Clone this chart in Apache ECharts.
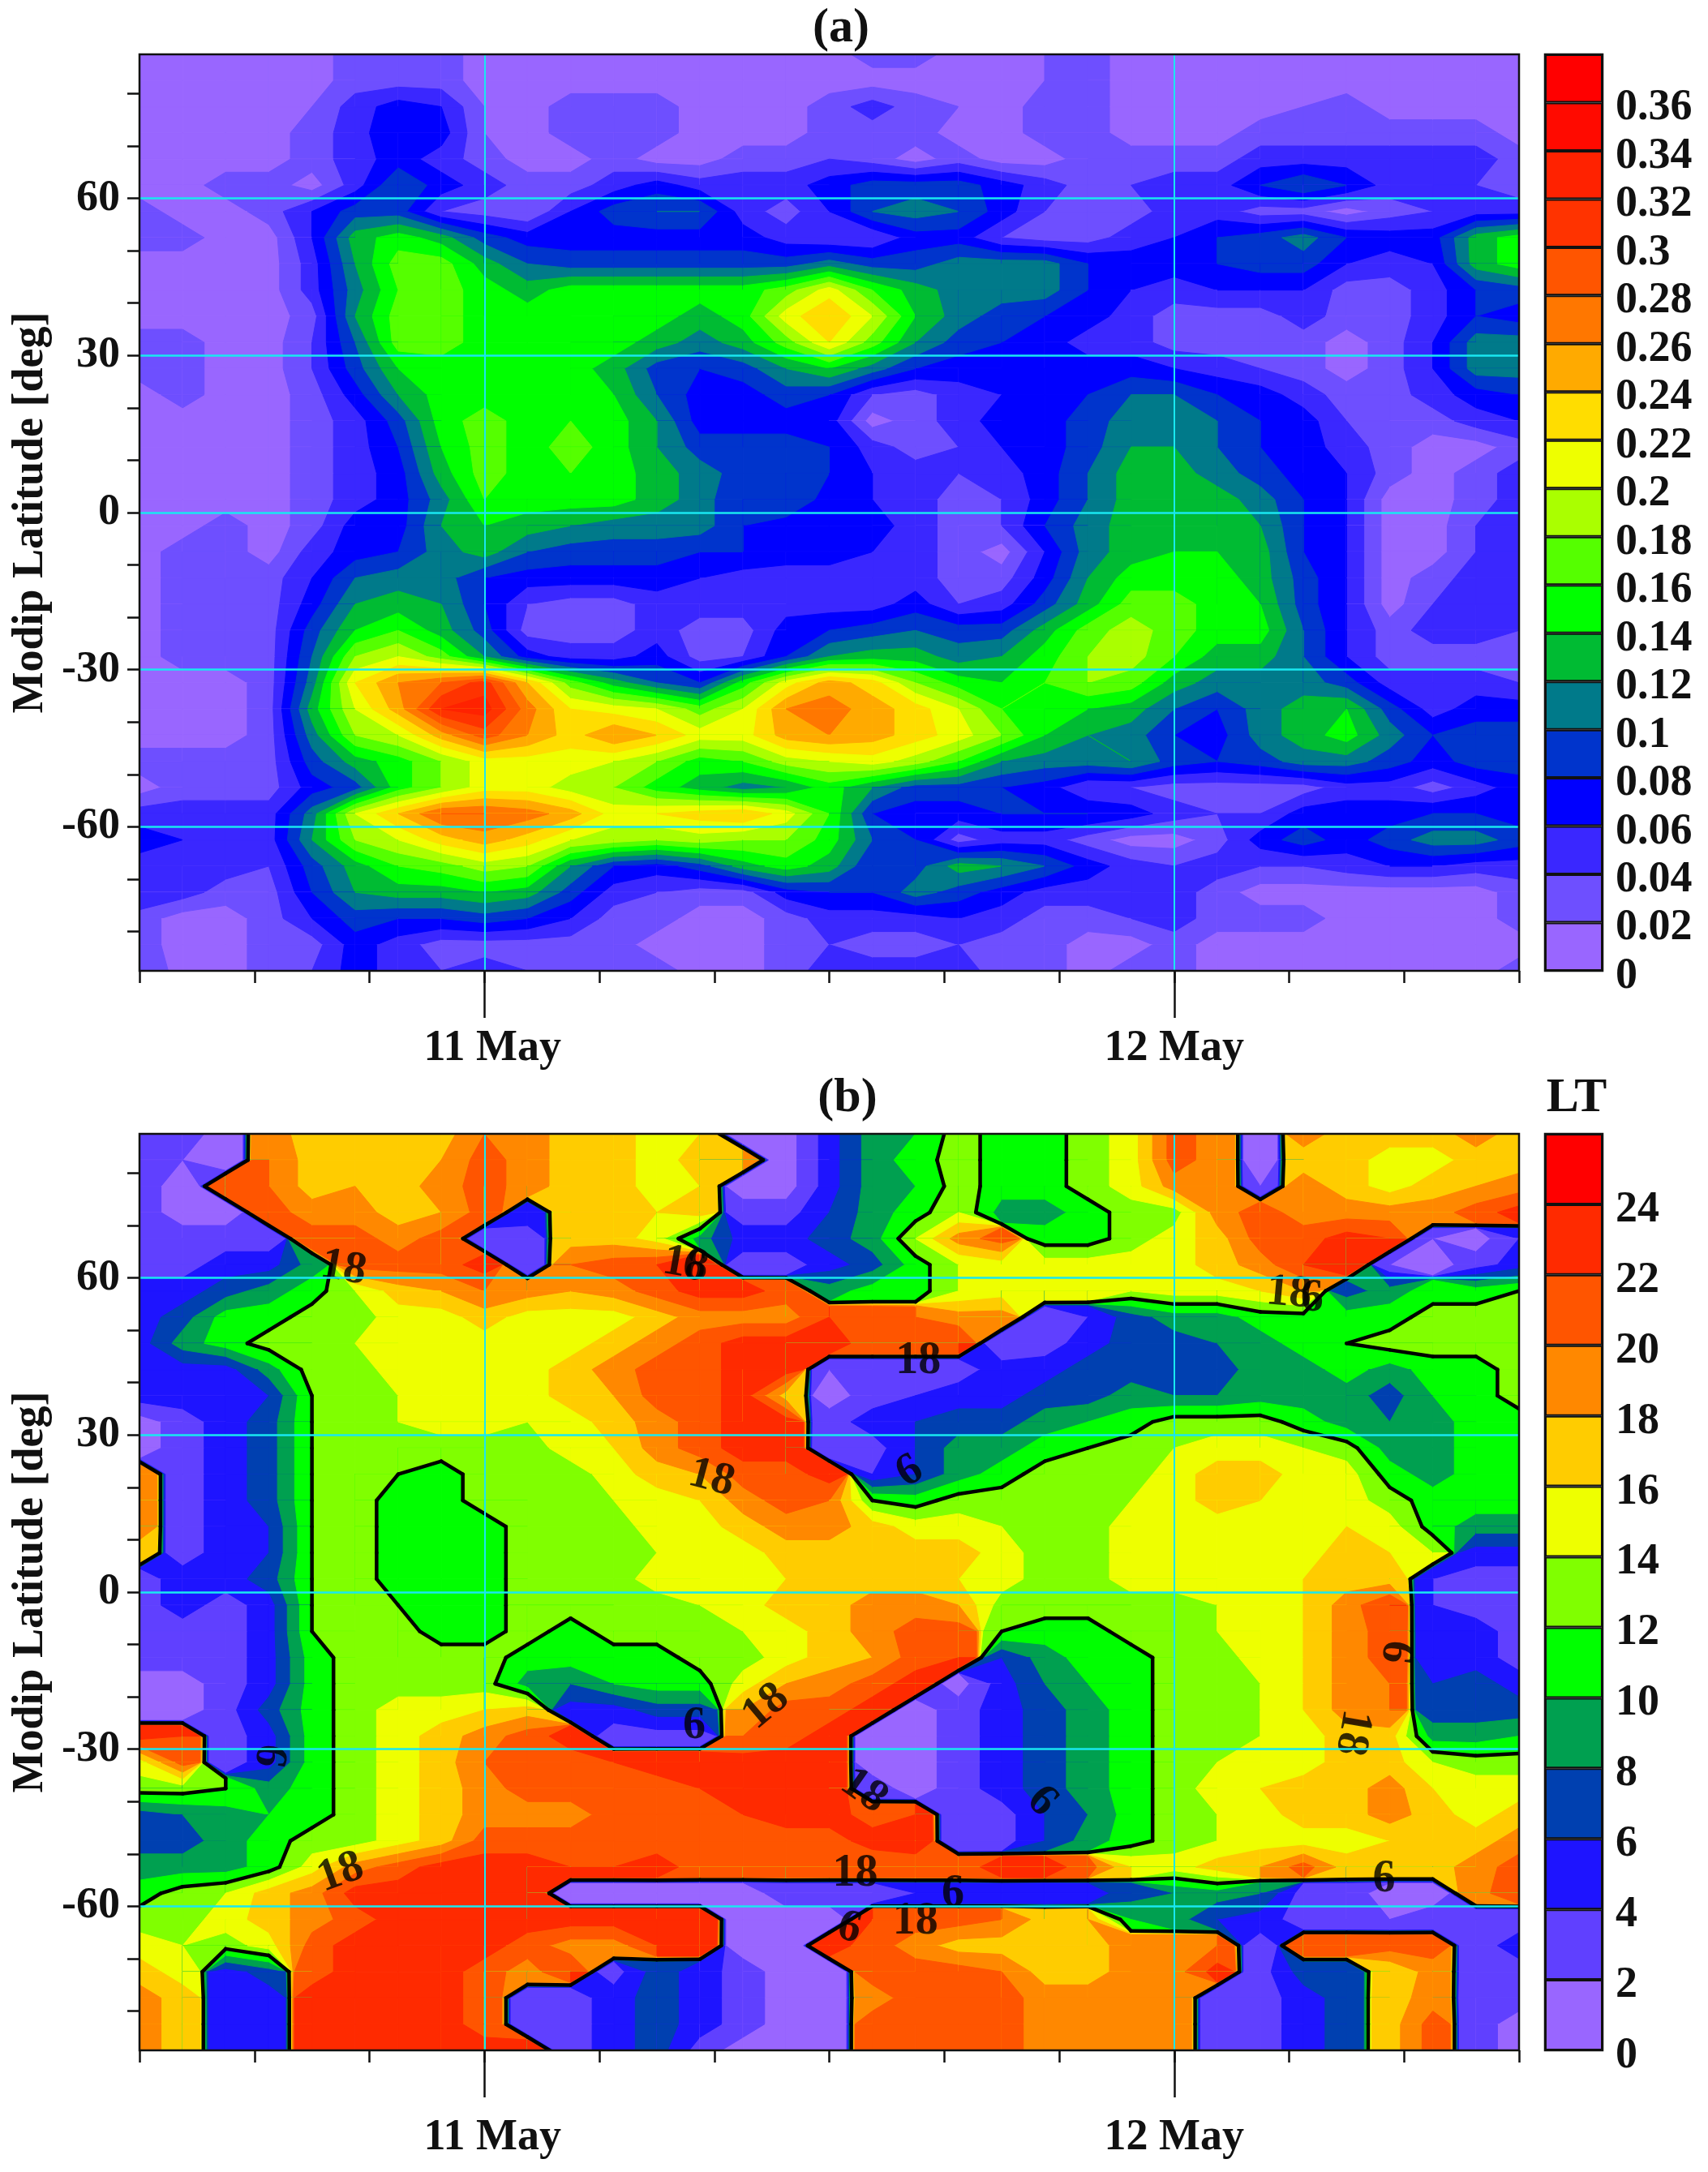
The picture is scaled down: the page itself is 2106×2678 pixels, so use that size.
<!DOCTYPE html>
<html>
<head>
<meta charset="utf-8">
<title>Modip latitude maps</title>
<style>
html,body{margin:0;padding:0;background:#fff;}
#main{width:2106px;height:2678px;}
</style>
<script src="https://cdn.jsdelivr.net/npm/echarts@6/dist/echarts.min.js"></script>
</head>
<body>
<div id="main"></div>
<script>
// hours since 10 May 12:00
const hours=[0,1.5,3,4.5,6,7.5,9,10.5,12,13.5,15,16.5,18,19.5,21,22.5,24,25.5,27,28.5,30,31.5,33,34.5,36,37.5,39,40.5,42,43.5,45,46.5,48];
const lats=[87.5,82.5,77.5,72.5,67.5,62.5,57.5,52.5,47.5,42.5,37.5,32.5,27.5,22.5,17.5,12.5,7.5,2.5,-2.5,-7.5,-12.5,-17.5,-22.5,-27.5,-32.5,-37.5,-42.5,-47.5,-52.5,-57.5,-62.5,-67.5,-72.5,-77.5,-82.5,-87.5];

// panel (a), in hundredths, one row per latitude
const rowsA=[
[1,1,1,1,1,3,4,3,1,1,1,1,1,1,1,1,1,3,3,1,1,2,3,1,1,1,1,1,1,1,1,1,1],
[1,1,1,1,1,3,3,3,1,1,1,1,1,1,1,1,1,1,1,1,1,2,3,1,1,1,1,1,1,1,1,1,1],
[1,1,1,1,2,5,7,6,2,1,3,3,3,1,1,1,3,5,3,2,1,3,3,1,1,1,1,2,3,1,1,1,1],
[1,1,1,1,3,5,8,7,2,1,3,3,3,1,1,1,3,3,3,1,1,3,3,1,1,1,3,3,3,3,3,3,1],
[1,1,1,1,3,5,7,5,3,1,1,3,1,1,3,3,4,3,1,3,1,1,3,3,3,3,5,5,5,5,5,5,3],
[1,1,3,3,1,5,10,7,5,3,3,5,7,5,5,5,7,9,9,9,7,5,3,4,5,5,8,10,8,5,5,4,3],
[3,1,1,3,6,9,9,4,3,2,6,9,10,10,5,3,6,10,11,10,7,4,3,3,5,5,3,3,1,3,4,5,5],
[3,3,1,1,6,13,15,13,9,7,7,7,7,7,7,5,4,4,7,7,4,3,3,5,6,8,9,11,8,7,7,13,15],
[1,1,1,1,5,12,17,17,13,10,9,9,9,9,9,9,11,9,9,11,11,11,8,7,7,8,9,9,6,5,6,13,15],
[1,1,1,1,5,11,16,17,15,13,15,15,15,15,15,17,21,16,13,11,11,11,8,6,5,6,6,6,3,3,5,8,9],
[1,1,1,1,3,12,17,17,15,15,15,16,15,13,15,21,24,20,14,11,9,8,7,5,3,3,3,5,3,3,5,8,7],
[3,3,1,1,4,10,17,17,15,15,15,15,13,11,13,17,22,17,12,9,8,7,5,5,3,3,3,3,1,3,6,11,11],
[3,3,1,1,4,9,14,15,15,15,15,13,9,8,9,12,14,11,8,7,7,7,7,7,6,5,4,3,1,3,6,11,11],
[1,3,1,1,3,7,12,15,15,15,15,14,10,7,7,9,8,4,3,5,6,7,8,10,10,8,7,5,3,3,5,7,8],
[1,1,1,1,3,5,9,15,17,15,16,15,12,7,7,7,7,1,3,5,7,7,9,11,11,10,8,7,4,3,3,5,6],
[1,1,1,1,3,5,8,14,17,15,17,15,12,9,9,9,8,5,3,4,6,7,9,12,12,10,8,7,5,3,1,1,3],
[1,1,1,1,3,5,7,13,17,15,16,15,13,11,9,9,8,6,5,4,5,7,10,13,13,11,9,7,6,3,1,3,5],
[1,1,1,1,3,5,7,11,16,15,15,15,13,11,8,10,7,6,5,3,4,7,10,13,14,13,11,8,6,1,1,3,5],
[1,1,3,1,3,7,7,12,14,13,12,11,11,11,8,7,7,7,5,3,4,8,11,13,13,13,12,8,6,1,1,4,5],
[1,3,3,1,5,7,8,11,13,10,9,9,9,8,8,7,7,6,5,3,1,6,11,13,14,14,13,8,6,1,1,4,5],
[1,3,3,3,6,10,11,11,8,7,7,7,7,6,5,5,5,5,5,3,3,7,12,15,15,15,13,9,6,1,3,5,5],
[1,3,3,3,7,12,13,12,8,4,3,3,5,5,5,5,5,5,7,4,5,9,13,17,17,15,14,9,6,1,4,5,5],
[1,3,3,3,9,14,16,13,9,3,3,3,5,3,3,7,8,9,10,9,9,13,17,19,17,15,15,10,6,3,5,5,4],
[1,3,3,3,10,18,20,17,12,7,5,5,7,3,4,8,12,13,13,11,12,15,18,19,16,13,13,10,6,3,3,3,3],
[1,1,1,3,11,22,26,28,31,24,17,13,10,8,15,21,25,23,18,15,14,16,18,17,13,11,11,11,9,5,5,5,4],
[1,1,1,3,13,20,25,32,33,27,22,21,20,17,20,26,27,25,23,20,16,15,14,13,10,8,11,13,14,9,5,7,7],
[1,1,1,3,11,18,20,25,29,26,23,26,24,21,21,25,26,25,23,21,18,14,12,11,8,7,11,13,15,11,8,9,9],
[3,3,3,3,9,13,15,18,21,21,21,20,18,15,16,19,20,21,19,16,12,11,11,12,9,8,9,11,11,9,7,9,9],
[1,3,3,3,7,9,15,18,21,21,19,18,15,13,11,12,15,12,9,9,8,7,4,4,3,3,3,3,5,5,3,5,7],
[5,5,5,5,11,20,24,28,28,27,25,21,22,23,24,21,16,8,7,7,8,8,8,7,5,4,4,7,7,7,8,8,7],
[7,6,5,5,12,18,20,23,25,23,20,19,18,19,18,18,15,10,8,3,5,5,3,1,1,3,7,9,7,9,11,11,9],
[5,5,5,4,9,13,16,17,19,18,12,8,7,9,13,15,13,8,9,13,12,10,7,5,4,5,4,4,5,6,6,5,5],
[6,5,3,3,8,12,13,13,14,13,9,5,4,3,3,7,8,8,11,9,7,5,5,5,5,3,1,1,1,1,1,1,3],
[3,1,1,3,6,9,8,8,9,8,6,3,3,1,1,3,5,5,5,6,5,3,3,4,5,3,3,3,1,1,1,1,3],
[3,1,1,3,3,7,5,3,3,3,3,3,1,1,1,3,4,3,3,4,3,3,1,1,3,1,1,1,1,1,1,1,1],
[4,1,1,3,4,7,5,4,5,4,3,3,3,1,1,3,5,5,5,5,3,3,1,3,3,1,1,1,1,1,1,1,3]
];

// panel (b), local time in hours
const rowsB=[
[3,3,1,19,17,17,17,17,20,19,17,17,15,16,1,1,5,9,10,13,11,11,13,15,21,19,1,19,17,17,17,19,17],
[3,2,1,20,17,17,17,18,21,19,17,17,15,17,18,1,5,9,11,13,11,11,13,15,21,19,1,17,17,15,15,17,17],
[3,1,21,20,17,18,17,19,21,19,17,17,15,16,1,1,5,9,10,13,11,11,13,15,19,19,2,19,17,15,17,18,19],
[3,1,1,21,19,19,17,18,21,5,17,17,16,17,3,3,6,9,11,14,9,9,11,13,13,19,21,19,19,19,19,21,23],
[3,3,3,3,21,21,19,21,3,3,17,17,15,9,5,5,7,9,14,19,21,11,11,13,15,17,21,21,23,22,2,1,4],
[3,3,5,5,9,21,21,21,23,3,20,21,22,22,3,3,5,7,11,14,15,15,15,15,15,17,19,22,23,2,1,3,5],
[5,5,7,9,11,14,17,18,20,19,18,19,21,23,23,21,9,11,11,14,15,15,14,14,15,15,16,18,7,9,11,11,12],
[5,7,11,11,13,13,15,15,17,15,15,15,17,19,19,19,22,21,20,19,19,2,4,7,9,9,11,11,11,11,13,13,13],
[5,9,11,13,13,14,15,15,15,15,15,17,19,21,23,23,23,21,21,22,2,3,5,7,7,8,9,11,12,13,13,13,13],
[5,5,5,9,13,13,15,15,15,15,17,19,21,21,23,23,2,3,3,3,5,5,7,7,7,7,9,9,11,9,11,11,13],
[5,5,5,6,12,13,14,15,15,15,17,18,21,21,23,17,1,3,4,5,5,7,7,9,8,8,9,9,9,7,10,11,13],
[1,3,5,7,12,13,14,15,15,14,15,17,19,21,23,23,3,5,6,7,7,9,10,11,13,13,13,11,9,8,9,11,11],
[1,3,5,7,12,13,13,13,13,13,15,16,19,21,23,23,2,3,6,9,9,11,12,13,14,15,15,14,13,9,9,11,11],
[19,3,5,7,12,13,12,11,13,13,13,15,17,18,21,21,23,4,6,9,11,13,13,13,15,17,17,15,15,11,9,11,11],
[19,3,5,7,12,13,11,11,13,13,13,14,15,16,19,21,20,12,11,13,13,13,13,14,15,17,16,15,15,13,11,11,11],
[19,3,5,6,12,13,11,11,11,13,13,13,15,15,17,19,19,17,15,15,14,13,13,15,15,15,15,15,16,15,11,9,9],
[17,3,5,6,12,13,11,11,11,13,13,13,14,15,15,17,17,17,17,17,15,13,13,15,15,15,15,15,17,16,14,5,5],
[3,5,5,7,12,13,11,11,11,13,13,13,15,15,15,16,17,17,17,16,15,13,13,15,15,15,15,16,17,17,4,3,3],
[3,5,3,5,12,13,12,11,11,13,13,13,13,14,15,17,17,19,19,18,13,13,13,13,13,14,15,16,19,22,4,3,3],
[3,3,3,5,12,13,13,11,11,13,11,13,13,13,14,15,17,19,21,21,12,11,11,13,13,14,15,16,19,21,5,5,3],
[3,3,3,5,11,13,13,13,13,11,11,11,11,13,13,15,17,18,21,22,6,9,11,11,13,13,15,16,19,21,5,5,3],
[1,1,3,5,11,13,13,13,13,9,8,10,11,11,15,18,19,21,23,1,5,8,10,11,13,13,14,16,19,20,6,7,5],
[1,1,3,7,11,13,15,15,16,17,5,5,7,7,18,21,21,23,1,3,5,7,9,11,13,13,14,16,19,20,7,7,7],
[23,22,3,5,11,13,15,17,19,21,23,3,3,3,20,21,23,1,1,3,5,7,9,11,13,13,14,15,17,17,9,9,10],
[15,21,3,5,11,13,15,17,20,21,21,22,23,23,23,23,23,1,1,3,5,7,9,11,13,14,15,15,17,17,14,13,13],
[13,13,12,9,11,13,15,17,19,21,21,21,21,22,23,23,23,3,1,3,5,7,9,11,13,15,16,17,17,19,16,15,15],
[7,8,9,10,11,13,15,17,19,19,19,21,21,21,22,23,23,21,22,2,3,6,8,11,13,14,15,17,17,19,17,15,17],
[7,7,9,11,13,13,15,17,21,21,21,21,21,21,21,21,21,23,23,2,3,6,9,11,13,14,15,15,15,16,17,17,19],
[9,9,9,11,15,19,21,23,23,23,22,22,23,21,21,21,20,20,21,21,23,23,21,16,15,17,18,21,17,17,17,19,21],
[11,13,14,17,19,23,23,23,23,23,1,1,1,1,1,3,3,3,4,4,5,4,5,7,8,9,8,3,3,1,1,19,22],
[13,13,15,17,19,21,23,23,23,23,23,23,23,23,1,1,1,22,21,21,20,17,18,10,9,6,5,3,3,2,3,3,3],
[15,14,13,15,21,23,23,23,23,21,19,19,22,22,1,1,23,21,19,17,17,17,17,19,19,20,3,21,21,21,21,3,5],
[17,15,5,7,21,23,23,23,21,19,22,3,7,5,3,1,1,21,21,21,20,17,17,19,19,23,3,7,7,16,19,3,3],
[19,17,5,5,23,23,23,23,21,3,3,5,7,5,3,1,1,19,21,21,21,19,19,19,19,3,3,5,7,17,19,2,3],
[19,17,5,5,23,23,23,23,21,3,3,5,7,5,3,1,1,21,21,21,21,19,19,19,19,3,3,5,7,17,21,3,1],
[19,17,5,5,23,23,23,23,23,23,3,5,7,3,1,1,1,21,21,21,21,19,19,19,19,3,3,5,7,17,21,3,1]
];

const levelsA=[0,2,4,6,8,10,12,14,16,18,20,22,24,26,28,30,32,34,36];
const colorsA=['#9966FF','#6E4FFF','#3A27FF','#0000FF','#0034CC','#007A8A','#00BB33','#00FF00','#55FF00','#AAFF00','#EEFF00','#FFDD00','#FFAA00','#FF7700','#FF5500','#FF3300','#FF2200','#FF0A00','#FF0000'];
const legendTicksA=[0,0.02,0.04,0.06,0.08,0.1,0.12,0.14,0.16,0.18,0.2,0.22,0.24,0.26,0.28,0.3,0.32,0.34,0.36];

const levelsB=[0,2,4,6,8,10,12,14,16,18,20,22,24];
const colorsB=['#9966FF','#6040FF','#1E14FF','#0040B0','#00A050','#00FF00','#80FF00','#EEFF00','#FFCC00','#FF8800','#FF5500','#FF2A00','#FF0000'];
const legendTicksB=[0,2,4,6,8,10,12,14,16,18,20,22,24];

const minorHours=[0,4,8,12,16,20,24,28,32,36,40,44,48];
const dayHours=[12,36];
const dayNames={12:'11 May',36:'12 May'};
const latTicks=[-80,-70,-60,-50,-40,-30,-20,-10,0,10,20,30,40,50,60,70,80];
const latLabels=[-60,-30,0,30,60];

// the black LT contour and its printed labels
const contourLevel=12;
const labelTexts=['18','18','6','18','6','18','18','6','18','6','6','18','18','6','18','6','18','6','6','18','6'];
const labelHours=[7.1,19.0,19.3,27.1,26.8,19.9,40.0,40.8,21.8,19.3,4.5,7.0,25.2,31.4,24.9,28.3,27.0,24.7,43.3,42.2,43.7];
const labelLats=[61.8,62.5,62.0,44.0,23.0,21.7,57.0,56.0,-21.9,-25.6,-31.2,-53.6,-38.0,-40.0,-53.8,-57.7,-62.9,-64.2,-54.9,-26.8,-11.4];
const labelAngles=[10,10,10,0,-30,15,5,0,-40,0,100,-20,35,45,0,0,0,15,0,100,100];

const serif='"Liberation Serif","Times New Roman",serif';
const frame='#111';
const cyan='#19E8F0';
const plotLeft=172,plotWidth=1701,plotHeight=1130,legendLeft=1905,legendWidth=71;
const topA=67,topB=1398;

// a very large step means the LT wrapped round, so the change is squeezed to a thin strip
function edgeT(a,b,lv,steep){
	let t=(lv-a)/(b-a);
	if(Math.abs(b-a)>=steep) t=0.5+(t-0.5)*0.22;
	return t;
}
function lerpPt(p,q,t){
	return [p[0]+(q[0]-p[0])*t,p[1]+(q[1]-p[1])*t];
}
function makeCells(rows){
	let cells=[];
	for(let i=0;i<lats.length-1;i++){
		for(let j=0;j<hours.length-1;j++){
			cells.push([hours[j],lats[i],hours[j+1],lats[i+1],rows[i][j],rows[i][j+1],rows[i+1][j+1],rows[i+1][j]]);
		}
	}
	return cells;
}
function cornersOf(api){
	let h0=api.value(0),la0=api.value(1),h1=api.value(2),la1=api.value(3);
	return {
		pts:[api.coord([h0,la0]),api.coord([h1,la0]),api.coord([h1,la1]),api.coord([h0,la1])],
		vals:[api.value(4),api.value(5),api.value(6),api.value(7)]
	};
}
function bandsRenderer(levels,colors,steep){
	return function(params,api){
		let c=cornersOf(api);
		let children=[];
		for(let k=0;k<levels.length;k++){
			let lv=levels[k];
			if(k<levels.length-1&&c.vals.every(v=>v>=levels[k+1])) continue;
			if(!c.vals.some(v=>v>=lv)) continue;
			let poly=[];
			for(let e=0;e<4;e++){
				let a=c.vals[e],b=c.vals[(e+1)%4];
				if(a>=lv) poly.push(c.pts[e]);
				if((a>=lv)!==(b>=lv)) poly.push(lerpPt(c.pts[e],c.pts[(e+1)%4],edgeT(a,b,lv,steep)));
			}
			children.push({type:'polygon',shape:{points:poly},style:{fill:colors[k],stroke:colors[k],lineWidth:1}});
		}
		return {type:'group',children:children};
	};
}
function contourRenderer(lv,steep){
	return function(params,api){
		let c=cornersOf(api);
		let cross=[];
		for(let e=0;e<4;e++){
			let a=c.vals[e],b=c.vals[(e+1)%4];
			if((a>=lv)!==(b>=lv)) cross.push(lerpPt(c.pts[e],c.pts[(e+1)%4],edgeT(a,b,lv,steep)));
		}
		// saddle cell: pair the crossings by the cell's mean value
		if(cross.length===4){
			let mean=(c.vals[0]+c.vals[1]+c.vals[2]+c.vals[3])/4;
			if((c.vals[0]>=lv)!==(mean>=lv)) cross=[cross[3],cross[0],cross[1],cross[2]];
		}
		let children=[];
		for(let n=0;n+1<cross.length;n+=2){
			children.push({type:'line',shape:{x1:cross[n][0],y1:cross[n][1],x2:cross[n+1][0],y2:cross[n+1][1]},
				style:{stroke:'#000',lineWidth:4.5,lineCap:'round'}});
		}
		return {type:'group',children:children};
	};
}

let grids=[],xAxes=[],yAxes=[],series=[];

function addPanel(top,rows,levels,colors,steep,labelMargin){
	let g=grids.length;
	grids.push({left:plotLeft,top:top,width:plotWidth,height:plotHeight,show:true,z:20,backgroundColor:'transparent',borderColor:frame,borderWidth:2.5});
	let xBase=xAxes.length,yBase=yAxes.length;
	xAxes.push({gridIndex:g,type:'value',min:0,max:48,position:'bottom',
		axisLine:{show:false,onZero:false},splitLine:{show:false},axisLabel:{show:false},
		axisTick:{show:true,length:15,customValues:minorHours,lineStyle:{color:frame,width:2.5}}});
	xAxes.push({gridIndex:g,type:'value',min:0,max:48,position:'bottom',z:10,
		axisLine:{show:false,onZero:false},
		splitLine:{show:true,lineStyle:{color:cyan,width:2}},
		axisTick:{show:true,length:58,customValues:dayHours,lineStyle:{color:frame,width:2.5}},
		axisLabel:{show:true,customValues:dayHours,margin:labelMargin,hideOverlap:false,
			formatter:function(v){return v===12?'{a|'+dayNames[v]+'}':'{b|'+dayNames[v]+'}';},
			rich:{a:{fontFamily:serif,fontWeight:'bold',fontSize:54,color:'#111',padding:[0,0,0,20]},
				b:{fontFamily:serif,fontWeight:'bold',fontSize:54,color:'#111'}}}});
	yAxes.push({gridIndex:g,type:'value',min:-87.5,max:87.5,position:'left',
		axisLine:{show:false,onZero:false},splitLine:{show:false},axisLabel:{show:false},
		axisTick:{show:true,length:15,customValues:latTicks,lineStyle:{color:frame,width:2.5}}});
	yAxes.push({gridIndex:g,type:'value',min:-87.5,max:87.5,position:'left',z:10,
		name:'Modip Latitude [deg]',nameLocation:'middle',nameGap:105,nameRotate:90,
		nameTextStyle:{fontFamily:serif,fontWeight:'bold',fontSize:54,color:'#111'},
		axisLine:{show:false,onZero:false},
		splitLine:{show:true,lineStyle:{color:cyan,width:2.5}},
		axisTick:{show:false,customValues:latLabels},
		axisLabel:{show:true,customValues:latLabels,margin:24,hideOverlap:false,
			fontFamily:serif,fontWeight:'bold',fontSize:54,color:'#111'}});
	series.push({type:'custom',coordinateSystem:'cartesian2d',xAxisIndex:xBase,yAxisIndex:yBase,silent:true,clip:true,z:2,
		data:makeCells(rows),renderItem:bandsRenderer(levels,colors,steep),progressive:0});
	return {xBase:xBase,yBase:yBase};
}

function addLegend(top,ticks,step,maxVal,colors){
	let g=grids.length;
	grids.push({left:legendLeft,top:top,width:legendWidth,height:plotHeight,show:true,z:20,backgroundColor:'transparent',borderColor:frame,borderWidth:2.5});
	let xi=xAxes.length,yi=yAxes.length;
	xAxes.push({gridIndex:g,type:'category',data:['c'],axisLine:{show:false},axisTick:{show:false},axisLabel:{show:false}});
	yAxes.push({gridIndex:g,type:'value',min:0,max:maxVal,position:'right',
		axisLine:{show:false},axisTick:{show:false},splitLine:{show:false},
		axisLabel:{show:true,customValues:ticks,margin:16,hideOverlap:false,
			formatter:function(v){return '{t|'+v+'}';},
			rich:{t:{fontFamily:serif,fontWeight:'bold',fontSize:54,color:'#111',lineHeight:68,verticalAlign:'bottom'}}}});
	colors.forEach(function(col,k){
		series.push({type:'bar',xAxisIndex:xi,yAxisIndex:yi,stack:'scale'+g,barWidth:'100%',silent:true,
			data:[step],itemStyle:{color:col,borderColor:frame,borderWidth:2}});
	});
}

let panelA=addPanel(topA,rowsA,levelsA,colorsA,Infinity,69);
addLegend(topA,legendTicksA,0.02,0.38,colorsA);
let panelB=addPanel(topB,rowsB,levelsB,colorsB,9,81);
addLegend(topB,legendTicksB,2,26,colorsB);

series.push({type:'custom',coordinateSystem:'cartesian2d',xAxisIndex:panelB.xBase,yAxisIndex:panelB.yBase,silent:true,clip:true,z:3,
	data:makeCells(rowsB),renderItem:contourRenderer(contourLevel,9),progressive:0});
series.push({type:'scatter',xAxisIndex:panelB.xBase,yAxisIndex:panelB.yBase,silent:true,z:4,symbolSize:1,
	itemStyle:{color:'transparent'},
	data:labelTexts.map(function(t,i){
		return {value:[labelHours[i],labelLats[i]],
			label:{show:true,position:'inside',formatter:t,rotate:-labelAngles[i],
				fontFamily:serif,fontWeight:'bold',fontSize:56,color:'#000'}};
	})});

const titleStyle={fontFamily:serif,fontWeight:'bold',fontSize:60,color:'#111'};
let mychart=echarts.init(document.getElementById('main'),null,{renderer:'canvas'});
mychart.setOption({
	backgroundColor:'#fff',
	animation:false,
	title:[
		{text:'(a)',left:1032,top:0,textAlign:'center',textStyle:titleStyle},
		{text:'(b)',left:1040,top:1319,textAlign:'center',textStyle:titleStyle},
		{text:'LT',left:1939,top:1319,textAlign:'center',textStyle:titleStyle}
	],
	grid:grids,
	xAxis:xAxes,
	yAxis:yAxes,
	series:series
});
</script>
</body>
</html>
